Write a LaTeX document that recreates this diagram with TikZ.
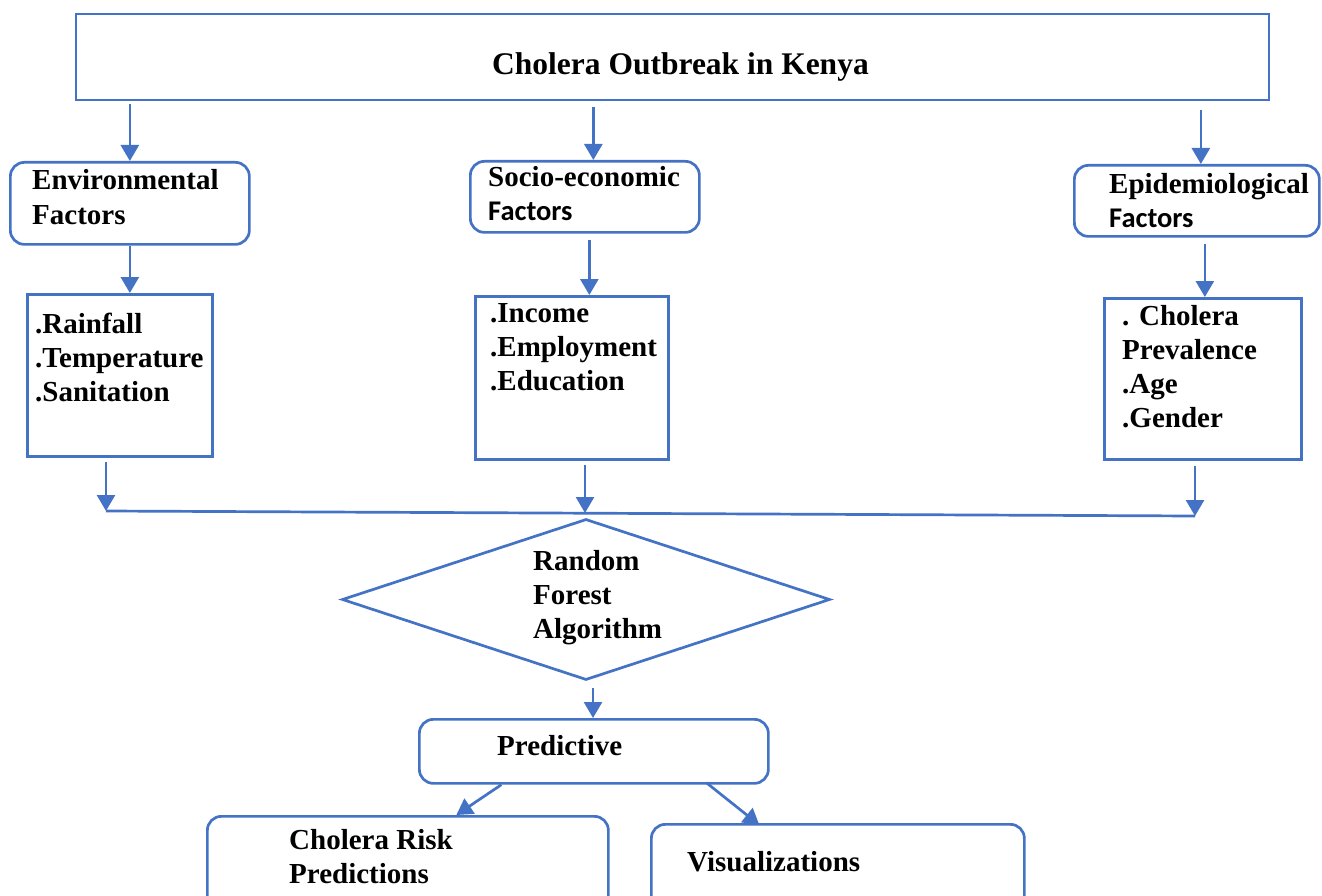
\documentclass[tikz,border=0pt]{standalone}
\usepackage{fontspec}
\setmainfont{Liberation Serif}
\newfontfamily\calfont{Carlito}
\usetikzlibrary{shapes.geometric,arrows.meta}
\definecolor{blueline}{HTML}{4472C4}
\newcommand{\bodyfont}{\fontsize{29}{34}\selectfont\bfseries}
\newcommand{\calfactors}{{\calfont\fontsize{28.5}{34}\selectfont\bfseries Factors}}
\begin{document}
\begin{tikzpicture}[x=1pt,y=-1pt,
  box/.style={draw=blueline,line width=2.7pt,inner sep=0pt,anchor=north west,fill=none},
  rbox/.style={box,rounded corners=14pt},
  txt/.style={anchor=base west,inner sep=0pt,font=\bodyfont,align=left},
  arr/.style={draw=blueline,line width=2.7pt,-{Triangle[width=18pt,length=16pt]}},
  ln/.style={draw=blueline,line width=2.7pt}]
\useasboundingbox (0,0) rectangle (1322,896);
\clip (0,0) rectangle (1322,896);
% boxes
\node[box,line width=2.3pt,minimum width=1193pt,minimum height=86pt] (top) at (75,13) {};
\node[rbox,minimum width=239pt,minimum height=82pt] (env) at (9,161) {};
\node[rbox,minimum width=229pt,minimum height=71pt] (soc) at (469,160) {};
\node[rbox,minimum width=245pt,minimum height=71pt] (epi) at (1073,164) {};
\node[box,minimum width=185pt,minimum height=162pt] (envl) at (26,293) {};
\node[box,minimum width=193pt,minimum height=163pt] (socl) at (474,295) {};
\node[box,minimum width=197pt,minimum height=161pt] (epil) at (1103,297) {};
\node[draw=blueline,line width=2.7pt,shape=diamond,aspect=3.03,minimum width=488pt,minimum height=161pt,inner sep=0pt] (alg) at (586,599.5) {};
\node[rbox,minimum width=349pt,minimum height=64pt] (pred) at (418,718) {};
\node[rbox,minimum width=401pt,minimum height=110pt] (risk) at (206,815) {};
\node[rbox,minimum width=373pt,minimum height=110pt] (vis) at (650,823) {};
% texts (anchor = baseline of the last line)
\node[txt,font=\fontsize{31.5}{36}\selectfont\bfseries] (ttop) at (492,75) {Cholera Outbreak in Kenya};
\node[txt] (tenv) at (32,224) {Environmental\\Factors};
\node[txt] (tsoc) at (488,220) {Socio-economic\\\calfactors};
\node[txt] (tepi) at (1109,227) {Epidemiological\\\calfactors};
\node[txt] (tenvl) at (35,401) {.Rainfall\\.Temperature\\.Sanitation};
\node[txt] (tsocl) at (490,390) {.Income\\.Employment\\.Education};
\node[txt] (tepil) at (1122,427) {. Cholera\\Prevalence\\.Age\\.Gender};
\node[txt] (talg) at (533,638) {Random\\Forest\\Algorithm};
\node[txt] (tpred) at (497,755) {Predictive};
\node[txt] (trisk) at (289,883) {Cholera Risk\\Predictions};
\node[txt] (tvis) at (687,871) {Visualizations};
% join points
\coordinate (jl) at (106,511);
\coordinate (jm) at (585,513);
\coordinate (jr) at (1195,516);
% arrows
\draw[arr] ([yshift=-3pt]top.south -| env.north) -- (env.north);
\draw[arr] ([xshift=8.5pt,yshift=-6pt]top.south -| soc.north) -- ([xshift=8.5pt]soc.north);
\draw[arr] ([xshift=4pt,yshift=-9pt]top.south -| epi.north) -- ([xshift=4pt]epi.north);
\draw[arr] (env.south) -- (env.south |- envl.north);
\draw[arr] ([xshift=4.5pt,yshift=-6pt]soc.south) -- ([xshift=4.5pt]soc.south |- socl.north);
\draw[arr] ([xshift=8pt,yshift=-6pt]epi.south) -- ([xshift=8pt]epi.south |- epil.north);
\draw[ln] (jl) -- (jr);
\draw[arr] ([yshift=-4pt]envl.south -| jl) -- (jl);
\draw[arr] ([yshift=-4pt]socl.south -| jm) -- (jm);
\draw[arr] ([yshift=-5pt]epil.south -| jr) -- (jr);
\draw[arr] ([xshift=7pt,yshift=-7pt]alg.south) -- ([xshift=7pt]alg.south |- pred.north);
\draw[arr] ([xshift=-92.5pt]pred.south) -- ([xshift=48.5pt]risk.north);
\draw[arr] ([xshift=112.5pt,yshift=2pt]pred.south) -- ([xshift=-78.5pt,yshift=-2pt]vis.north);
\end{tikzpicture}
\end{document}
